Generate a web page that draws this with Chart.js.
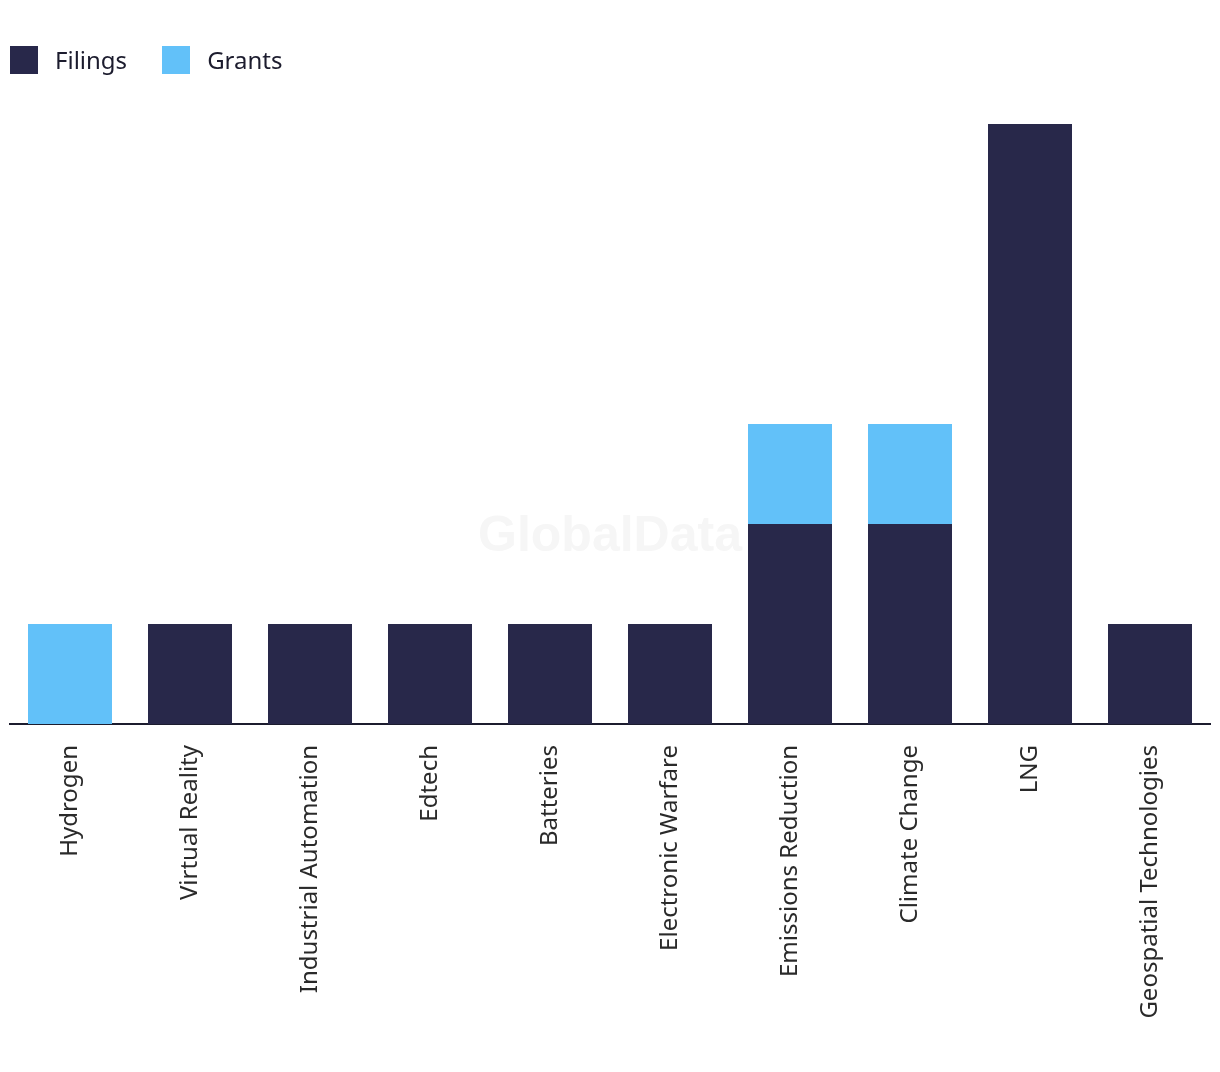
<!DOCTYPE html>
<html lang="en">
<head>
    <meta charset="UTF-8">
    <title>filings and grants</title>
    <style>
        body { margin: 0; background: #fff; }
        #wrap { position: relative; width: 1220px; height: 1072px; }
        #legend { position: absolute; left: 10px; top: 43px; display: flex; font-family: "Noto Sans", sans-serif; font-size: 24px; color: #1c1c2e; }
        .item { display: flex; align-items: center; margin-right: 35px; }
        .box { width: 28px; height: 28px; margin-right: 17px; }
    </style>
</head>
<body>

<script src="https://cdn.jsdelivr.net/npm/chart.js"></script>

<div id="wrap">
    <canvas id="mycanvas" width="1220" height="1072"></canvas>
    <div id="legend"></div>
</div>

<script>
    const categories = ["Hydrogen", "Virtual Reality", "Industrial Automation", "Edtech", "Batteries",
        "Electronic Warfare", "Emissions Reduction", "Climate Change", "LNG", "Geospatial Technologies"];
    const filings = [0, 1, 1, 1, 1, 1, 2, 2, 6, 1];
    const grants = [1, 0, 0, 0, 0, 0, 1, 1, 0, 0];

    const navy = "#28284a";
    const sky = "#62c1f9";

    // faint watermark behind the bars
    const watermark = {
        id: "watermark",
        beforeDatasetsDraw(chart) {
            const ctx = chart.ctx;
            ctx.save();
            ctx.font = "bold 50px 'Liberation Sans', Arial, sans-serif";
            ctx.fillStyle = "#f6f6f6";
            ctx.textAlign = "center";
            ctx.textBaseline = "middle";
            ctx.fillText("GlobalData", 610, 537);
            ctx.restore();
        }
    };

    const chart = new Chart(document.getElementById("mycanvas"), {
        type: "bar",
        data: {
            labels: categories,
            datasets: [
                {label: "Filings", data: filings, backgroundColor: navy},
                {label: "Grants", data: grants, backgroundColor: sky}
            ]
        },
        options: {
            responsive: false,
            animation: false,
            layout: {padding: {left: 10, right: 10, top: 124, bottom: 0}},
            plugins: {legend: {display: false}, tooltip: {enabled: false}},
            datasets: {bar: {categoryPercentage: 1, barPercentage: 0.7}},
            scales: {
                x: {
                    stacked: true,
                    grid: {display: false},
                    border: {display: true, color: "#1c1c2e", width: 2},
                    ticks: {
                        minRotation: 90, maxRotation: 90, padding: 13,
                        color: "#2a2a2a",
                        font: {family: "'Noto Sans', sans-serif", size: 24}
                    },
                    afterFit(scale) { scale.height = 1072 - 724; } // keep the axis line where it is in the picture
                },
                y: {stacked: true, display: false, min: 0, max: 6}
            }
        },
        plugins: [watermark]
    });

    //legend made from the datasets
    const legend = document.getElementById("legend");
    chart.data.datasets.forEach(ds => {
        const item = document.createElement("div");
        item.className = "item";
        item.innerHTML = '<span class="box" style="background:' + ds.backgroundColor + '"></span>' + ds.label;
        legend.appendChild(item);
    });
</script>

</body>
</html>
